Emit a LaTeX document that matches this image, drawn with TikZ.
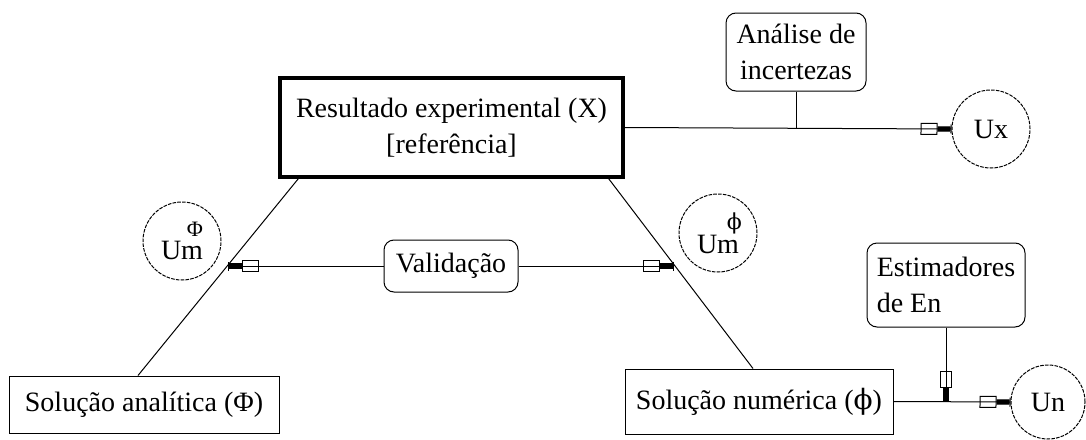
\documentclass[tikz,border=0pt]{standalone}
\usepackage{fontspec}
\setmainfont{Liberation Serif}
\newfontfamily\grego{DejaVu Serif}
\usetikzlibrary{arrows.meta,positioning}
\newcommand{\fiN}{{\grego ϕ}}
\newcommand{\expo}{\fontsize{11}{11}\selectfont}

\begin{document}
\begin{tikzpicture}[x=0.5pt,y=-0.5pt,font=\fontsize{14}{18}\selectfont,
	caixa/.style={draw,line width=0.5pt,align=center,inner sep=0pt},
	arred/.style={caixa,rounded corners=5pt},
	bola/.style={draw,circle,line width=0.5pt,dash pattern=on 1.8pt off 0.6pt,minimum size=39pt,inner sep=0pt},
	seta/.style={line width=0.5pt,-{Rectangle[open,length=8.5pt,width=6pt,line width=0.5pt]Rectangle[length=6.5pt,width=2.6pt]Bar[width=4.5pt,line width=0.5pt]}}]
	\useasboundingbox (0,0) rectangle (1086,439);
	% caixas
	\node[caixa,line width=1.6pt,minimum width=171.5pt,minimum height=49.5pt] (res) at (451.5,127.5) {Resultado experimental (X)\\{[referência]}};
	\node[arred,minimum width=70pt,minimum height=39pt] (ana) at (796,52) {Análise de\\incertezas};
	\node[arred,minimum width=67pt,minimum height=26pt] (val) at (451,266) {Validação};
	\node[caixa,minimum width=135pt,minimum height=28.5pt] (solA) at (144,404.5) {Solução analítica (Φ)};
	\node[caixa,minimum width=134pt,minimum height=32.5pt] (solN) at (759,401.5) {Solução numérica (\fiN)};
	\node[arred,align=left,minimum width=79pt,minimum height=42pt] (est) at (946,285) {Estimadores\\de En};
	% incertezas
	\node[bola] (ux) at (991,129) {Ux};
	\node[bola] (umA) at (182,241) {Um\llap{\raisebox{.85em}{\expo Φ}}};
	\node[bola] (umN) at (718,233) {Um\llap{\raisebox{.85em}{\expo\fiN}\kern-.1em}};
	\node[bola,minimum size=37pt] (un) at (1048,402) {Un};
	% ligacoes
	\draw[line width=0.5pt] ([xshift=10pt]res.south west) -- coordinate[pos=0.436] (pA) ([xshift=-3pt]solA.north);
	\draw[line width=0.5pt] ([xshift=-8pt]res.south east) -- coordinate[pos=0.452] (pN) ([xshift=-3pt]solN.north);
	\draw[seta] (res.east) -- (ux.west);
	\draw[line width=0.5pt] (ana.south) -- (ana.south |- res.east);
	\draw[seta] (val.west) -- (val.west -| pA);
	\draw[seta] (val.east) -- (val.east -| pN);
	\draw[seta] (solN.east) -- (un.west);
	\draw[seta] (est.south) -- (est.south |- solN.east);
\end{tikzpicture}
\end{document}
